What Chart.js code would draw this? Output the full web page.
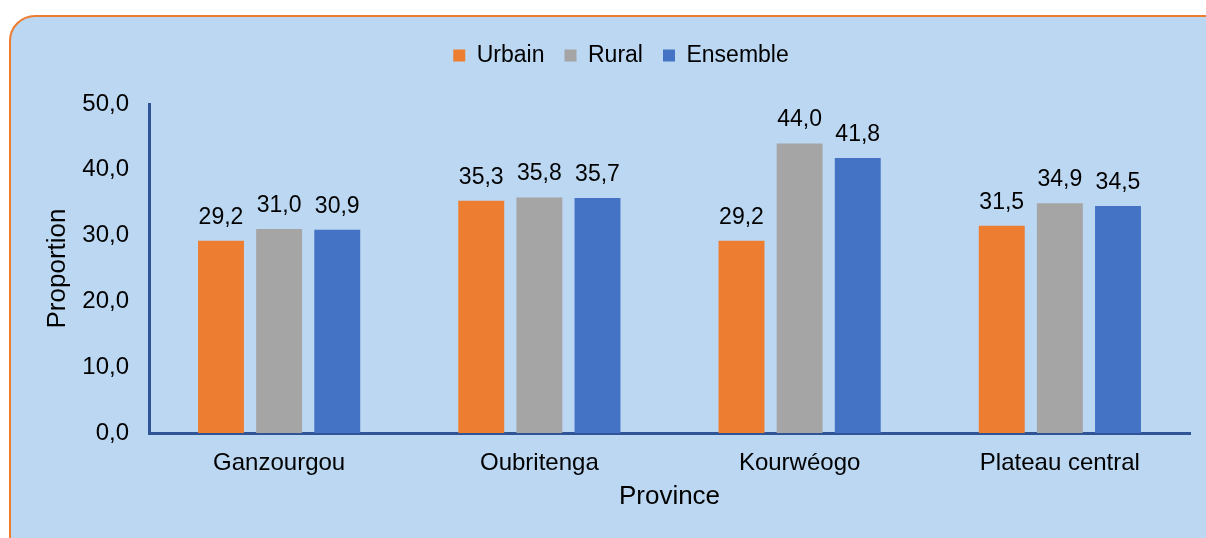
<!DOCTYPE html>
<html>
<head>
<meta charset="utf-8">
<script src="https://cdn.jsdelivr.net/npm/chart.js@4/dist/chart.umd.min.js"></script>
<style>
    body { margin: 0; background: #fff; width: 1206px; height: 538px; overflow: hidden; position: relative; }
    .cadre {
        position: absolute; left: 9px; top: 15px; width: 1220px; height: 560px;
        background: #BBD7F2; border: 2px solid #ED7D31; border-radius: 26px;
    }
    #myChart { position: absolute; left: 0; top: 0; }
</style>
</head>
<body>
<div class="cadre"></div>
<canvas id="myChart" width="1206" height="538"></canvas>
<script>
var provinces = ["Ganzourgou", "Oubritenga", "Kourwéogo", "Plateau central"];
var urbain = [29.2, 35.3, 29.2, 31.5];
var rural = [31.0, 35.8, 44.0, 34.9];
var ensemble = [30.9, 35.7, 41.8, 34.5];

var police = "'Liberation Sans', Arial, sans-serif";
var bleuAxe = "#2F5597";

function virgule(v) {
    return Number(v).toFixed(1).replace(".", ",");
}

// hauteur fixe pour la légende, et décalage vers la droite
var legendeHaute = {
    id: "legendeHaute",
    beforeInit: function (chart) {
        var fit = chart.legend.fit;
        chart.legend.fit = function () {
            fit.bind(chart.legend)();
            this.height = 80;
        };
    },
    afterLayout: function (chart) {
        chart.legend.left += 26;
        chart.legend.right += 26;
    }
};

// valeurs au-dessus des barres
var etiquettes = {
    id: "etiquettes",
    afterDatasetsDraw: function (chart) {
        var ctx = chart.ctx;
        ctx.save();
        ctx.font = "23px " + police;
        ctx.fillStyle = "#000";
        ctx.textAlign = "center";
        ctx.textBaseline = "alphabetic";
        chart.data.datasets.forEach(function (ds, i) {
            chart.getDatasetMeta(i).data.forEach(function (bar, j) {
                ctx.fillText(virgule(ds.data[j]), bar.x, bar.y - 17);
            });
        });
        ctx.restore();
    }
};

new Chart("myChart", {
    type: "bar",
    data: {
        labels: provinces,
        datasets: [
            { label: "Urbain", data: urbain, backgroundColor: "#ED7D31" },
            { label: "Rural", data: rural, backgroundColor: "#A5A5A5" },
            { label: "Ensemble", data: ensemble, backgroundColor: "#4472C4" }
        ]
    },
    options: {
        responsive: false,
        animation: false,
        events: [],
        categoryPercentage: 0.67,
        barPercentage: 0.79,
        layout: { padding: { top: 24, right: 16, left: 0, bottom: 0 } },
        plugins: {
            legend: {
                position: "top",
                labels: {
                    boxWidth: 12,
                    boxHeight: 12,
                    padding: 20,
                    color: "#000",
                    font: { size: 23, family: police }
                }
            },
            tooltip: { enabled: false }
        },
        scales: {
            x: {
                grid: { display: false, drawTicks: false },
                border: { color: bleuAxe, width: 3 },
                ticks: { color: "#000", padding: 16, font: { size: 24, family: police } },
                title: {
                    display: true, text: "Province", color: "#000",
                    font: { size: 26, family: police },
                    padding: { top: 4, bottom: 26 }
                },
                afterFit: function (scale) { scale.height = 105; }
            },
            y: {
                min: 0,
                max: 50,
                grid: { display: false, drawTicks: false },
                border: { color: bleuAxe, width: 3 },
                ticks: {
                    stepSize: 10, color: "#000", padding: 20,
                    font: { size: 24, family: police },
                    callback: function (v) { return virgule(v); }
                },
                title: {
                    display: true, text: "Proportion", color: "#000",
                    font: { size: 26, family: police },
                    padding: { top: 42, bottom: 0 }
                },
                afterFit: function (scale) { scale.width = 149; }
            }
        }
    },
    plugins: [legendeHaute, etiquettes]
});
</script>
</body>
</html>
